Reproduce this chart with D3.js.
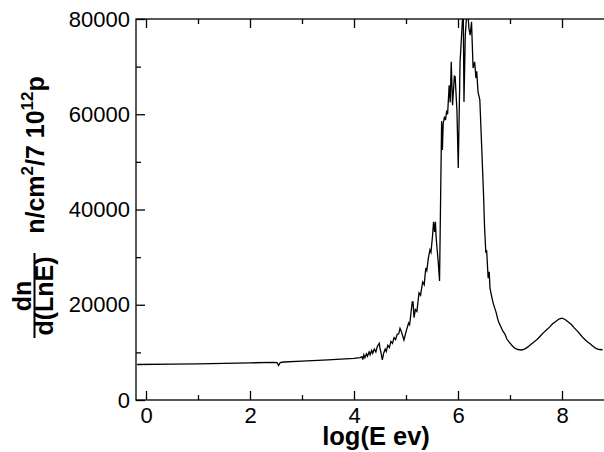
<!DOCTYPE html>
<html>
<head>
<meta charset="utf-8">
<script src="https://cdn.jsdelivr.net/npm/d3@7"></script>
<style>
  html, body { margin: 0; padding: 0; background: #fff; }
  svg { display: block; }
  text { font-family: "Liberation Sans", Arial, Helvetica, sans-serif; fill: #000; }
</style>
</head>
<body>
<svg id="chart" width="604" height="452"></svg>
<script>
// log10 of neutron energy (eV)
const logE = [
  -0.17, 0.5, 1.0, 1.5, 2.0, 2.45, 2.52, 2.55, 2.58, 2.65, 3.0, 3.5, 4.0, 4.12,
  4.154, 4.17, 4.19, 4.21, 4.24, 4.26, 4.29, 4.31, 4.34, 4.36, 4.39, 4.42, 4.45, 4.486,
  4.50, 4.52, 4.545, 4.57, 4.60, 4.62, 4.65, 4.68, 4.71, 4.74, 4.77, 4.80, 4.83, 4.86,
  4.885, 4.91, 4.96, 5.0, 5.05, 5.07, 5.12, 5.135, 5.155, 5.18, 5.21, 5.25, 5.28, 5.32,
  5.35, 5.38, 5.40, 5.43, 5.46, 5.48, 5.51, 5.53, 5.55, 5.565, 5.58, 5.62, 5.645, 5.685,
  5.70, 5.715, 5.74, 5.76, 5.78, 5.80, 5.83, 5.85, 5.87, 5.895, 5.93, 5.945, 5.98, 6.005,
  6.04, 6.08, 6.10, 6.115, 6.14, 6.18, 6.21, 6.235, 6.26, 6.29, 6.32, 6.345, 6.36, 6.385,
  6.42, 6.49, 6.51, 6.535, 6.55, 6.58, 6.60, 6.615, 6.65, 6.675, 6.70, 6.73, 6.76, 6.78,
  6.82, 6.86, 6.90, 6.94, 6.98, 7.03, 7.09, 7.15, 7.22, 7.28, 7.34, 7.40, 7.46, 7.52,
  7.58, 7.64, 7.70, 7.76, 7.82, 7.88, 7.94, 8.00, 8.06, 8.12, 8.18, 8.24, 8.30, 8.36,
  8.42, 8.48, 8.54, 8.60, 8.66, 8.72, 8.78
];

// dn/d(lnE) in n/cm^2 per 7e12 protons
const flux = [
  7450, 7520, 7600, 7700, 7800, 7900, 7850, 7250, 7850, 7980, 8150, 8420, 8750, 8900,
  9100, 8500, 9500, 8900, 9700, 9200, 10100, 9500, 10400, 9800, 10700, 10100, 11300, 11900,
  10800, 9900, 8400, 9800, 10700, 10200, 11500, 11000, 12300, 11900, 13100, 12700, 13800, 13900,
  15050, 14400, 12600, 14300, 16200, 15800, 20600, 20600, 17300, 19000, 18600, 22500, 22000, 24800,
  24200, 27700, 27200, 29800, 31500, 31000, 34400, 37400, 35300, 37400, 34000, 29000, 25000, 58600,
  52500, 58000, 59500, 58800, 60500, 60000, 66100, 62500, 71000, 61900, 68000, 67900, 60700, 48700,
  71000, 78700, 83000, 62600, 76600, 83000, 78000, 76600, 79400, 69700, 71000, 67600, 69000, 64700,
  63000, 43500, 36500, 30900, 31500, 25600, 26900, 23500, 21600, 20400, 19500, 18500, 17200, 16400,
  15500, 14500, 13900, 12800, 12200, 11550, 10900, 10600, 10500, 10700, 11100, 11650, 12200, 12700,
  13400, 14100, 14700, 15300, 16000, 16500, 17000, 17200, 16900, 16400, 15850, 15100, 14400, 13650,
  12900, 12300, 11800, 11250, 10800, 10600, 10550
];

const xTicks = [0, 2, 4, 6, 8];
const xMinorTicks = [1, 3, 5, 7];
const yTicks = [0, 20000, 40000, 60000, 80000];
const yMinorTicks = [10000, 30000, 50000, 70000];

const svg = d3.select("#chart");
const pLeft = 136, pRight = 603.6, pTop = 19, pBottom = 400;
const frameRight = 604.8;

const x = d3.scaleLinear().domain([-0.2, 8.8]).range([pLeft - 0.4, pRight]);
const y = d3.scaleLinear().domain([0, 80000]).range([pBottom, pTop]);

// clip for the spectrum curve
svg.append("defs").append("clipPath").attr("id", "plotclip")
  .append("rect").attr("x", pLeft).attr("y", pTop)
  .attr("width", frameRight - pLeft).attr("height", pBottom - pTop);

const pts = logE.map((v, i) => [v, flux[i]]);
const line = d3.line().x(d => x(d[0])).y(d => y(d[1]));

svg.append("path")
  .datum(pts)
  .attr("clip-path", "url(#plotclip)")
  .attr("d", line)
  .attr("fill", "none")
  .attr("stroke", "#000")
  .attr("stroke-width", 1.3)
  .attr("stroke-linejoin", "miter");

// axes: ticks drawn pointing into the frame
const majorLen = 9, minorLen = 5;
function styleAxis(g) {
  g.select(".domain").remove();
  g.selectAll(".tick line").attr("stroke", "#000").attr("stroke-width", 1.3);
}

const xBottom = svg.append("g").attr("transform", `translate(0,${pBottom})`)
  .call(d3.axisBottom(x).tickValues(xTicks).tickSize(-majorLen).tickPadding(7).tickFormat(d3.format("d")));
styleAxis(xBottom);
xBottom.selectAll("text").attr("font-size", 22);
svg.append("g").attr("transform", `translate(0,${pBottom})`)
  .call(d3.axisBottom(x).tickValues(xMinorTicks).tickSize(-minorLen).tickFormat(""))
  .call(styleAxis);
svg.append("g").attr("transform", `translate(0,${pTop})`)
  .call(d3.axisTop(x).tickValues(xTicks).tickSize(-majorLen).tickFormat(""))
  .call(styleAxis);
svg.append("g").attr("transform", `translate(0,${pTop})`)
  .call(d3.axisTop(x).tickValues(xMinorTicks).tickSize(-minorLen).tickFormat(""))
  .call(styleAxis);

const yLeft = svg.append("g").attr("transform", `translate(${pLeft},0)`)
  .call(d3.axisLeft(y).tickValues(yTicks).tickSize(-majorLen).tickPadding(6).tickFormat(d3.format("d")));
styleAxis(yLeft);
yLeft.selectAll("text").attr("font-size", 22);
svg.append("g").attr("transform", `translate(${pLeft},0)`)
  .call(d3.axisLeft(y).tickValues(yMinorTicks).tickSize(-minorLen).tickFormat(""))
  .call(styleAxis);

// frame
svg.append("rect")
  .attr("x", pLeft).attr("y", pTop)
  .attr("width", frameRight - pLeft).attr("height", pBottom - pTop)
  .attr("fill", "none").attr("stroke", "#000").attr("stroke-width", 1.3);

// x axis title
svg.append("text")
  .attr("x", 376).attr("y", 445)
  .attr("text-anchor", "middle")
  .attr("font-size", 25.5).attr("font-weight", "bold")
  .text("log(E ev)");

// y axis title: dn/d(LnE) fraction followed by units
const yl = svg.append("g");
const unit = yl.append("text")
  .attr("transform", "translate(44,155) rotate(-90)")
  .attr("text-anchor", "middle")
  .attr("font-size", 25).attr("font-weight", "bold");
unit.append("tspan").text("n/cm");
unit.append("tspan").attr("font-size", 17).attr("dy", -11).text("2");
unit.append("tspan").attr("dy", 11).text("/7 10");
unit.append("tspan").attr("font-size", 17).attr("dy", -11).text("12");
unit.append("tspan").attr("dy", 11).text("p");

yl.append("text")
  .attr("transform", "translate(31,296) rotate(-90)")
  .attr("text-anchor", "middle")
  .attr("font-size", 25).attr("font-weight", "bold")
  .text("dn");
yl.append("line")
  .attr("x1", 34.5).attr("x2", 34.5).attr("y1", 253).attr("y2", 338)
  .attr("stroke", "#000").attr("stroke-width", 2);
yl.append("text")
  .attr("transform", "translate(53,296) rotate(-90)")
  .attr("text-anchor", "middle")
  .attr("font-size", 25).attr("font-weight", "bold")
  .text("d(LnE)");
</script>
</body>
</html>
